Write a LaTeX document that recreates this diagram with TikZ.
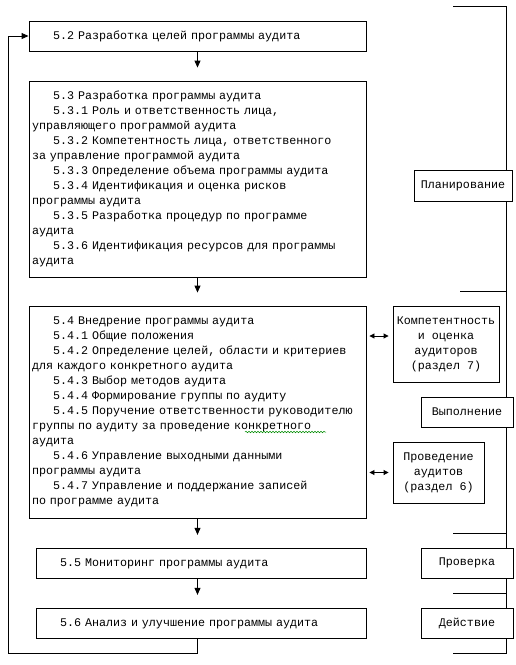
\documentclass[tikz,border=0pt]{standalone}
\usepackage{fontspec}
\setmainfont{Liberation Mono}
\usetikzlibrary{arrows.meta,decorations.pathmorphing}
\tikzset{
  >={Triangle[length=7pt,width=6pt]},
}
\tikzstyle{every node}=[font=\fontsize{11.7}{15}\selectfont]
\tikzstyle{stage}=[draw,fill=white,line width=.9pt,inner xsep=3pt,inner ysep=0pt,align=left]
\tikzstyle{phase}=[draw,fill=white,line width=.9pt,inner sep=0pt,align=center]
\tikzstyle{flow}=[line width=.9pt,->,shorten >=13pt]
\tikzstyle{link}=[line width=.9pt,{Triangle[length=5pt,width=5pt]}-{Triangle[length=5pt,width=5pt]}]
\newcommand{\ind}{\phantom{000}}

\begin{document}
\begin{tikzpicture}[x=1pt,y=-1pt]
        \useasboundingbox (0,0) rectangle (516,665);
        \draw[line width=.9pt] (453,6)--(506,6)--(506,653)--(453,653);
        \draw[line width=.9pt] (460,291)--(506,291);
        \draw[line width=.9pt] (453,533)--(506,533);
        \draw[line width=.9pt] (453,593)--(506,593);
        \node[stage,text width=331pt,minimum height=30pt] (b52) at (197.5,36)
        {\ind 5.2 Разработка целей программы аудита};
        \node[stage,text width=331pt,minimum height=196pt] (b53) at (197.5,179)
        {\ind 5.3 Разработка программы аудита\\
        \ind 5.3.1 Роль и ответственность лица,\\
        управляющего программой аудита\\
        \ind 5.3.2 Компетентность лица, ответственного\\
        за управление программой аудита\\
        \ind 5.3.3 Определение объема программы аудита\\
        \ind 5.3.4 Идентификация и оценка рисков\\
        программы аудита\\
        \ind 5.3.5 Разработка процедур по программе\\
        аудита\\
        \ind 5.3.6 Идентификация ресурсов для программы\\
        аудита};
        \node[stage,text width=331pt,minimum height=212pt] (b54) at (197.5,412)
        {\ind 5.4 Внедрение программы аудита\\
        \ind 5.4.1 Общие положения\\
        \ind 5.4.2 Определение целей, области и критериев\\
        для каждого конкретного аудита\\
        \ind 5.4.3 Выбор методов аудита\\
        \ind 5.4.4 Формирование группы по аудиту\\
        \ind 5.4.5 Поручение ответственности руководителю\\
        группы по аудиту за проведение конкретного\\
        аудита\\
        \ind 5.4.6 Управление выходными данными\\
        программы аудита\\
        \ind 5.4.7 Управление и поддержание записей\\
        по программе аудита};
        \node[stage,text width=324pt,minimum height=30pt] (b55) at (201,563.3)
        {\ind 5.5 Мониторинг программы аудита};
        \node[stage,text width=324pt,minimum height=30pt] (b56) at (201,623.3)
        {\ind 5.6 Анализ и улучшение программы аудита};
        \node[phase,minimum width=98pt,minimum height=31pt] (plan) at (463,186) {Планирование};
        \node[phase,minimum width=106pt,minimum height=76pt] (komp) at (446,344)
        {Компетентность\\и оценка\\аудиторов\\(раздел 7)};
        \node[phase,minimum width=92pt,minimum height=30pt] (vyp) at (467,412) {Выполнение};
        \node[phase,minimum width=91pt,minimum height=61pt] (prov) at (438.5,472.5)
        {Проведение\\аудитов\\(раздел 6)};
        \node[phase,minimum width=92pt,minimum height=30pt] (check) at (467,563.3) {Проверка};
        \node[phase,minimum width=92pt,minimum height=30pt] (act) at (467,623.3) {Действие};
        \coordinate (ret) at (8,653);
        \draw[flow] (b52.south) -- (b53.north);
        \draw[flow] (b53.south) -- (b54.north);
        \draw[flow] (b54.south) -- (b54.south |- b55.north);
        \draw[flow] (b54.south |- b55.south) -- (b54.south |- b56.north);
        \draw[line width=.9pt,->] (b54.south |- b56.south) |- (ret) |- (b52.west);
        \draw[link] ([xshift=3pt,yshift=8pt]b54.east |- komp.west) -- ([xshift=-4pt,yshift=8pt]komp.west);
        \draw[link] ([xshift=3pt]b54.east |- prov.west) -- ([xshift=-4pt]prov.west);
        \draw[green!55!black,line width=.5pt,decorate,decoration={snake,amplitude=.8pt,segment length=3pt}]
        (245,432) -- (326,432);
      \end{tikzpicture}
\end{document}
